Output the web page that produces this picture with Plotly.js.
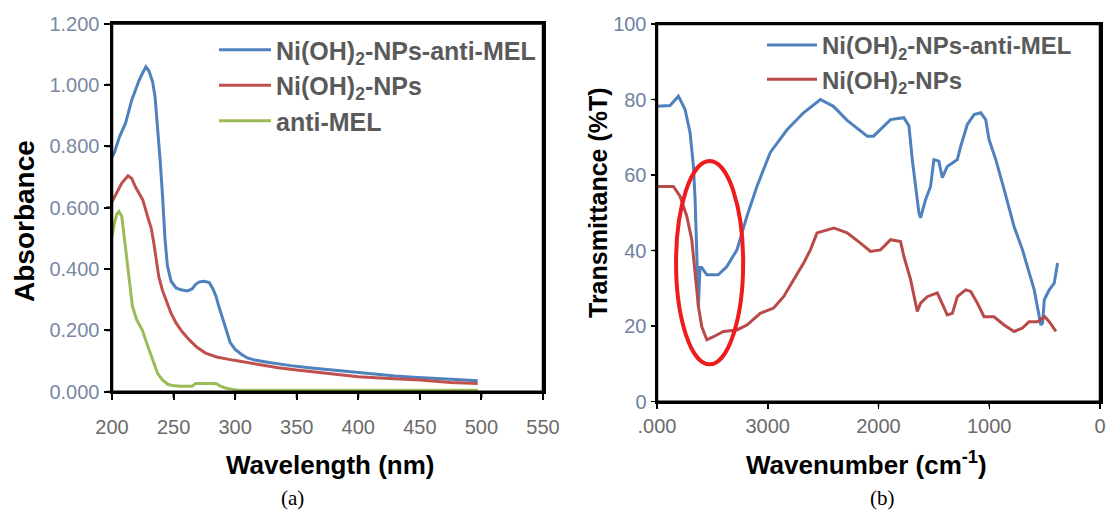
<!DOCTYPE html>
<html>
<head>
<meta charset="utf-8">
<script src="https://cdn.plot.ly/plotly-3.0.1.min.js"></script>
<style>html,body{margin:0;padding:0;background:#fff;}#chart{width:1120px;height:514px;}</style>
</head>
<body>
<div id="chart"></div>
<script>
// ---- Panel (a): UV-Vis absorbance ----
var wlNiAnti = [200,202,206,211,216,219,222,225,227.5,230,233,235,237,239,241,243,245,248,252,256,261,265,268,271,275,279,282,284.5,287,290,293,296,300,305,310,316,325,335,345,360,375,390,400,415,430,445,460,475,490,497];
var absNiAnti = [0.765,0.78,0.83,0.875,0.95,0.985,1.015,1.04,1.059,1.045,1.01,0.96,0.87,0.76,0.64,0.50,0.41,0.36,0.338,0.332,0.328,0.335,0.35,0.358,0.36,0.356,0.335,0.31,0.275,0.235,0.195,0.16,0.138,0.122,0.11,0.103,0.097,0.09,0.085,0.078,0.072,0.066,0.062,0.056,0.051,0.047,0.043,0.04,0.037,0.036];

var wlNi = [200,202,205,208,213,216,219,222,225,229,232,234,236,238,241,244,248,252,257,263,269,276,285,298,310,320,335,350,375,400,425,450,475,497];
var absNi = [0.619,0.635,0.66,0.68,0.704,0.695,0.668,0.645,0.625,0.57,0.53,0.483,0.43,0.375,0.33,0.295,0.255,0.224,0.195,0.168,0.145,0.126,0.113,0.103,0.095,0.087,0.078,0.071,0.06,0.049,0.043,0.038,0.03,0.027];

var wlAnti = [200,202,204,205.7,208,210,212,214,216.5,220,224.7,228,232.8,237,241,245,249,255,265,268,280,285,288,292,300,302,350,400,450,497];
var absAnti = [0.505,0.55,0.58,0.587,0.57,0.50,0.43,0.35,0.28,0.235,0.2,0.16,0.103,0.06,0.038,0.025,0.02,0.018,0.018,0.027,0.027,0.026,0.018,0.012,0.006,0.005,0.005,0.005,0.005,0.005];

var uvXTicks = [200,250,300,350,400,450,500,550];
var uvYTicks = [0,0.2,0.4,0.6,0.8,1.0,1.2];

// ---- Panel (b): FTIR transmittance ----
var wnNiAnti = [4000,3882,3807,3747,3701,3671,3656,3641,3626,3612,3596,3550,3447,3369,3278,3188,3098,2977,2826,2677,2525,2407,2283,2101,2045,1891,1771,1725,1695,1635,1620,1575,1530,1500,1455,1424,1379,1288,1258,1198,1137,1077,1032,1002,941,866,776,700,654,594,534,518,503,458,413,383];
var trNiAnti = [78.2,78.4,80.9,77.4,71.2,62.3,53.5,40,25.2,35.5,35.5,33.6,33.6,35.8,40.2,49.1,57,66,72,76.5,80,78.2,74.5,70.3,70.3,74.7,75.2,73,64.1,50,48.7,53.5,57,64.1,63.7,59.3,62.3,64.1,67.6,73.4,76,76.5,74.7,69.4,64.1,56.2,46.4,40.2,35.8,29.6,20.3,20.9,27,29.6,31.4,36.7];

var wnNi = [4000,3852,3792,3731,3686,3656,3626,3596,3550,3490,3400,3278,3188,3068,2947,2857,2766,2676,2615,2555,2404,2283,2163,2072,1982,1891,1801,1771,1710,1680,1650,1620,1560,1469,1424,1379,1333,1288,1213,1167,1107,1047,957,866,776,700,640,564,498,458,398];
var trNi = [57,57,54.4,49.1,42.9,33.2,25.2,19.9,16.4,17.2,18.6,19,20.3,23.4,24.8,27.8,32.3,36.7,40.2,44.7,46,44.7,42,39.8,40.2,42.9,42.4,38.5,32.3,27.8,23.9,26.1,27.8,28.8,26.1,23,23.4,27.8,29.6,29.2,26.1,22.5,22.5,20.3,18.6,19.5,21.2,21.2,22.5,21.2,18.6];

var irXTicks = [4000,3000,2000,1000,0];
var irXTickText = ['.000','3000','2000','1000','0'];
var irYTicks = [0,20,40,60,80,100];

var seriesNames = ['<b>Ni(OH)<sub>2</sub>-NPs-anti-MEL</b>','<b>Ni(OH)<sub>2</sub>-NPs</b>','<b>anti-MEL</b>'];
var colBlue = '#4f81bd', colRed = '#c0504d', colGreen = '#9bbb59', colRedIR = '#b94a4a';

var FONT = 'Liberation Sans, Arial, sans-serif';

var traces = [
  {x: wlNiAnti, y: absNiAnti, name: seriesNames[0], type:'scatter', mode:'lines', line:{color:colBlue,width:3}, legend:'legend', legendgroup:'a1', xaxis:'x', yaxis:'y'},
  {x: wlNi, y: absNi, name: seriesNames[1], type:'scatter', mode:'lines', line:{color:colRed,width:3}, legend:'legend', legendgroup:'a2', xaxis:'x', yaxis:'y'},
  {x: wlAnti, y: absAnti, name: seriesNames[2], type:'scatter', mode:'lines', line:{color:colGreen,width:3}, legend:'legend', legendgroup:'a3', xaxis:'x', yaxis:'y'},
  {x: wnNiAnti, y: trNiAnti, name: seriesNames[0], type:'scatter', mode:'lines', line:{color:colBlue,width:3}, legend:'legend2', legendgroup:'b1', xaxis:'x2', yaxis:'y2'},
  {x: wnNi, y: trNi, name: seriesNames[1], type:'scatter', mode:'lines', line:{color:colRedIR,width:3}, legend:'legend2', legendgroup:'b2', xaxis:'x2', yaxis:'y2'}
];

function ax(extra) {
  var base = {
    showline:true, linecolor:'#000000', linewidth:2.5, mirror:true,
    ticks:'outside', tickcolor:'#000000', tickwidth:2, ticklen:6,
    showgrid:false, zeroline:false
  };
  for (var k in extra) base[k] = extra[k];
  return base;
}

// Frame and tick marks drawn as shapes bound to the axes (robust fallback)
var FRAME = {color:'#000000', width:2.5};
var shapes = [
  {type:'rect', xref:'x domain', yref:'y domain', x0:0, x1:1, y0:0, y1:1, line:FRAME, fillcolor:'rgba(0,0,0,0)', layer:'above'},
  {type:'rect', xref:'x2 domain', yref:'y2 domain', x0:0, x1:1, y0:0, y1:1, line:FRAME, fillcolor:'rgba(0,0,0,0)', layer:'above'}
];
uvXTicks.forEach(function(v){ shapes.push({type:'line', xref:'x', yref:'y domain', x0:v, x1:v, y0:0, y1:-6/368, line:{color:'#000', width:2}, layer:'above'}); });
uvYTicks.forEach(function(v){ shapes.push({type:'line', xref:'x domain', yref:'y', x0:0, x1:-6/431, y0:v, y1:v, line:{color:'#000', width:2}, layer:'above'}); });
irXTicks.forEach(function(v){ shapes.push({type:'line', xref:'x2', yref:'y2 domain', x0:v, x1:v, y0:0, y1:-5/378, line:{color:'#000', width:1.5}, layer:'above'}); });
irYTicks.forEach(function(v){ shapes.push({type:'line', xref:'x2 domain', yref:'y2', x0:0, x1:-4/443, y0:v, y1:v, line:{color:'#000', width:1.5}, layer:'above'}); });
// red ellipse highlighting the O-H region
shapes.push({type:'circle', xref:'x2', yref:'y2', x0:3828, x1:3222, y0:9.9, y1:63.7, line:{color:'#ee1c1c', width:4}, layer:'above'});

var layout = {
  width:1120, height:514,
  margin:{l:0,r:0,t:0,b:0},
  paper_bgcolor:'#fff', plot_bgcolor:'#fff',
  font:{family:FONT, color:'#000'},
  showlegend:true,
  xaxis: ax({
    domain:[112/1120, 543/1120], anchor:'y', range:[200,550],
    tickvals: uvXTicks, tickfont:{size:20, color:'#6b6b6b', family:FONT}, ticklabelstandoff:10
  }),
  yaxis: ax({
    domain:[1-391.7/514, 1-23.5/514], anchor:'x', range:[0,1.2],
    tickvals: uvYTicks, tickformat:'.3f', tickfont:{size:20, color:'#7a88a4', family:FONT}
  }),
  xaxis2: ax({
    domain:[657/1120, 1100/1120], anchor:'y2', range:[4000,0],
    tickvals: irXTicks, ticktext: irXTickText, tickfont:{size:20, color:'#6b6b6b', family:FONT},
    tickwidth:1.5, ticklen:5
  }),
  yaxis2: ax({
    domain:[1-401.7/514, 1-24/514], anchor:'x2', range:[0,100],
    tickvals: irYTicks, tickfont:{size:20, color:'#6f82a3', family:FONT},
    tickwidth:1.5, ticklen:4
  }),
  legend:{
    x:214/1120, y:1-27/514, xanchor:'left', yanchor:'top',
    bgcolor:'rgba(0,0,0,0)', borderwidth:0,
    font:{size:25, color:'#5a5a5a', family:FONT},
    itemwidth:52, tracegroupgap:0, itemclick:false, itemdoubleclick:false
  },
  legend2:{
    x:762/1120, y:1-23/514, xanchor:'left', yanchor:'top',
    bgcolor:'rgba(0,0,0,0)', borderwidth:0,
    font:{size:24, color:'#5a5a5a', family:FONT},
    itemwidth:50, tracegroupgap:0, itemclick:false, itemdoubleclick:false
  },
  shapes: shapes,
  annotations:[
    {text:'<b>Absorbance</b>', xref:'paper', yref:'paper', x:24/1120, y:1-221/514, xanchor:'center', yanchor:'middle', textangle:-90, showarrow:false, font:{size:28, color:'#000', family:FONT}},
    {text:'<b>Wavelength (nm)</b>', xref:'paper', yref:'paper', x:330/1120, y:1-465/514, xanchor:'center', yanchor:'middle', showarrow:false, font:{size:26, color:'#000', family:FONT}},
    {text:'<b>Transmittance (%T)</b>', xref:'paper', yref:'paper', x:598/1120, y:1-203/514, xanchor:'center', yanchor:'middle', textangle:-90, showarrow:false, font:{size:25, color:'#000', family:FONT}},
    {text:'<b>Wavenumber (cm<sup>-1</sup>)</b>', xref:'paper', yref:'paper', x:866/1120, y:1-463/514, xanchor:'center', yanchor:'middle', showarrow:false, font:{size:26, color:'#000', family:FONT}},
    {text:'(a)', xref:'paper', yref:'paper', x:292/1120, y:1-498/514, xanchor:'center', yanchor:'middle', showarrow:false, font:{size:21, color:'#000', family:'Liberation Serif, Times New Roman, serif'}},
    {text:'(b)', xref:'paper', yref:'paper', x:882/1120, y:1-498/514, xanchor:'center', yanchor:'middle', showarrow:false, font:{size:21, color:'#000', family:'Liberation Serif, Times New Roman, serif'}}
  ]
};

Plotly.newPlot('chart', traces, layout, {staticPlot:true, displayModeBar:false});
</script>
</body>
</html>
